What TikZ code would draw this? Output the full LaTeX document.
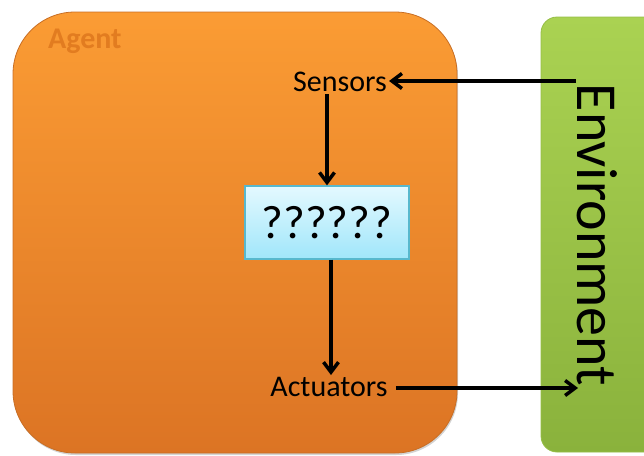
\documentclass[tikz,border=0pt]{standalone}
\usepackage{fontspec}
\setmainfont{Carlito}
\usetikzlibrary{arrows.meta,shadows,calc}
\definecolor{agenttop}{RGB}{251,156,52}
\definecolor{agentbot}{RGB}{220,116,36}
\definecolor{agentrim}{RGB}{200,110,36}
\definecolor{agentlbl}{RGB}{226,124,32}
\definecolor{envtop}{RGB}{170,210,82}
\definecolor{envbot}{RGB}{138,178,60}
\definecolor{envrim}{RGB}{150,190,70}
\definecolor{boxtop}{RGB}{228,249,255}
\definecolor{boxbot}{RGB}{160,230,250}
\definecolor{boxrim}{RGB}{88,184,205}
\tikzset{
  agentbox/.style={rounded corners=62pt, top color=agenttop, bottom color=agentbot,
    draw=agentrim, line width=0.8pt, drop shadow={shadow xshift=1pt, shadow yshift=-2pt, opacity=0.35}},
  envbox/.style={rounded corners=16pt, top color=envtop, bottom color=envbot,
    draw=envrim, line width=0.8pt},
  thinkbox/.style={draw=boxrim, line width=1.2pt, top color=boxtop, bottom color=boxbot,
    minimum width=164pt, minimum height=73pt, inner sep=0pt, font=\fontsize{47}{50}\selectfont},
  lbl/.style={inner sep=2pt, font=\fontsize{30}{34}\selectfont},
  flow/.style={-{Straight Barb[length=10pt,width=15pt,line width=3.5pt]}, line width=3.5pt}
}
\begin{document}
\begin{tikzpicture}[x=1pt,y=-1pt]
  \useasboundingbox (0,0) rectangle (644,455);
  % agent and environment panels
  \path[agentbox] (13,12) rectangle (457,453);
  \path[envbox] (541,17) rectangle (700,452);
  \node[anchor=north west, inner sep=0pt, text=agentlbl,
        font=\fontsize{30}{32}\selectfont\bfseries] (agent) at (48,29) {Agent};
  \node[rotate=-90, font=\fontsize{58}{62}\selectfont] (env) at (597,235) {Environment};
  % inside the agent
  \node[lbl] (sens) at (340,82) {Sensors};
  \node[thinkbox] (q) at (327,222.5) {??????};
  \node[lbl] (act) at (329,387) {Actuators};
  \coordinate (envin) at (576,81);
  \coordinate (envout) at (578,388);
  % information flow
  \draw[flow] (envin) -- (sens.east |- envin);
  \draw[flow] (sens.south -| q.north) -- (q.north);
  \draw[flow] ($(q.south)+(4,0)$) -- ($(act.north)+(2,0)$);
  \draw[flow, shorten <=6pt] (act.east |- envout) -- (envout);
\end{tikzpicture}
\end{document}
